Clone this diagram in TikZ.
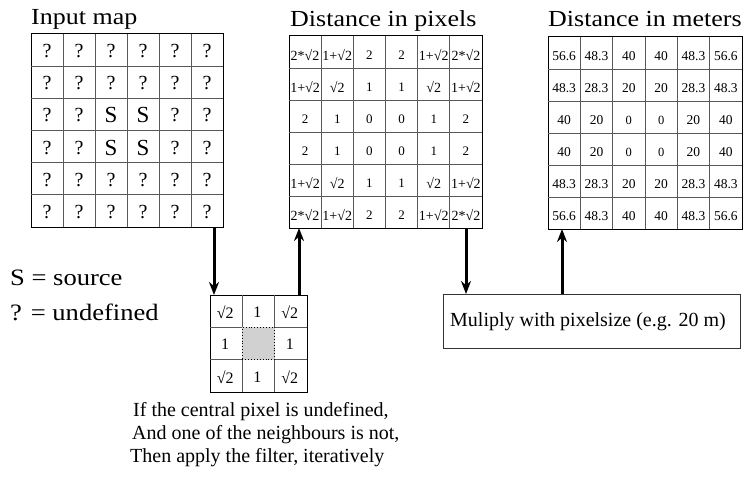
\documentclass[tikz,border=0pt]{standalone}
\usepackage{fontspec}
\setmainfont{Liberation Serif}
\newfontfamily\widefont[FakeStretch=1.13]{Liberation Serif}
\usetikzlibrary{arrows.meta,calc}
\newcommand\myfs[1]{\fontsize{#1}{#1}\selectfont}
\begin{document}
\begin{tikzpicture}[x=1pt,y=-1pt,
  gridbox/.style={draw=black, line width=1pt, inner sep=0pt, outer sep=0pt, anchor=north west},
  gridline/.style={draw=black!65, line width=0.9pt},
  title/.style={anchor=base west, inner sep=0pt, font=\widefont\myfs{23}},
  legend/.style={anchor=base west, inner sep=0pt, font=\widefont\myfs{23.5}},
  note/.style={anchor=base west, inner sep=0pt, font=\myfs{20}},
  qm/.style={inner sep=0pt, font=\myfs{20}},
  src/.style={inner sep=0pt, font=\myfs{23}},
  pxe/.style={inner sep=0pt, font=\myfs{14}},
  pxd/.style={inner sep=0pt, font=\myfs{13}},
  mte/.style={inner sep=0pt, font=\myfs{13.5}},
  mtd/.style={inner sep=0pt, font=\myfs{12.5}},
  flt/.style={inner sep=0pt, font=\myfs{16}},
  arr/.style={-{Stealth[length=13pt,width=10pt]}, line width=3pt},
  mulbox/.style={draw=black!80, line width=0.9pt, anchor=north west, minimum width=297pt, minimum height=54pt, inner sep=0pt, font=\myfs{20}}
]
\useasboundingbox (0,0) rectangle (746,476);

% ---------- titles ----------
\node[title] (t1) at (31,25) {Input map};
\node[title] (t2) at (290,27) {Distance in pixels};
\node[title] (t3) at (548,27) {Distance in meters};

% ---------- input map ----------
\node[gridbox, minimum width=192pt, minimum height=193pt] (inmap) at (31,34) {};
\foreach \i in {1,...,5} {
  \draw[gridline] ($(inmap.north west)+(\i*32,0)$) -- ($(inmap.south west)+(\i*32,0)$);
  \draw[gridline] ($(inmap.north west)+(0,\i*32.17)$) -- ($(inmap.north east)+(0,\i*32.17)$);
}
\foreach \r in {1,2,5,6} \foreach \c in {1,...,6}
  \node[qm] (im-\r-\c) at ({31+(\c-0.5)*32},{34+(\r-0.5)*32.17+1}) {?};
\foreach \r in {3,4} \foreach \c in {1,2,5,6}
  \node[qm] (im-\r-\c) at ({31+(\c-0.5)*32},{34+(\r-0.5)*32.17+1}) {?};
\foreach \r in {3,4} \foreach \c in {3,4}
  \node[src] (im-\r-\c) at ({31+(\c-0.5)*32},{34+(\r-0.5)*32.17+1}) {S};

% ---------- distance in pixels ----------
\node[gridbox, minimum width=193pt, minimum height=192pt] (pxmap) at (289,36) {};
\foreach \i in {1,...,5} {
  \draw[gridline] ($(pxmap.north west)+(\i*32.17,0)$) -- ($(pxmap.south west)+(\i*32.17,0)$);
  \draw[gridline] ($(pxmap.north west)+(0,\i*32)$) -- ($(pxmap.north east)+(0,\i*32)$);
}
\foreach \r/\row in {
  1/{e/2*√2,e/1+√2,d/2,d/2,e/1+√2,e/2*√2},
  2/{e/1+√2,e/√2,d/1,d/1,e/√2,e/1+√2},
  3/{d/2,d/1,d/0,d/0,d/1,d/2},
  4/{d/2,d/1,d/0,d/0,d/1,d/2},
  5/{e/1+√2,e/√2,d/1,d/1,e/√2,e/1+√2},
  6/{e/2*√2,e/1+√2,d/2,d/2,e/1+√2,e/2*√2}}
  \foreach \k/\t [count=\c] in \row
    \node[px\k] (px-\r-\c) at ({289+(\c-0.5)*32.17},{36+(\r-0.5)*32+3}) {\t};

% ---------- distance in meters ----------
\node[gridbox, minimum width=194pt, minimum height=192pt] (mmap) at (548,37) {};
\foreach \i in {1,...,5} {
  \draw[gridline] ($(mmap.north west)+(\i*32.33,0)$) -- ($(mmap.south west)+(\i*32.33,0)$);
  \draw[gridline] ($(mmap.north west)+(0,\i*32)$) -- ($(mmap.north east)+(0,\i*32)$);
}
\foreach \r/\row in {
  1/{e/56.6,e/48.3,e/40,e/40,e/48.3,e/56.6},
  2/{e/48.3,e/28.3,e/20,e/20,e/28.3,e/48.3},
  3/{e/40,e/20,d/0,d/0,e/20,e/40},
  4/{e/40,e/20,d/0,d/0,e/20,e/40},
  5/{e/48.3,e/28.3,e/20,e/20,e/28.3,e/48.3},
  6/{e/56.6,e/48.3,e/40,e/40,e/48.3,e/56.6}}
  \foreach \k/\t [count=\c] in \row
    \node[mt\k] (m-\r-\c) at ({548+(\c-0.5)*32.33},{37+(\r-0.5)*32+3}) {\t};

% ---------- filter ----------
\node[gridbox, minimum width=97pt, minimum height=97pt] (filt) at (210,295) {};
\foreach \i in {1,2} {
  \draw[gridline] ($(filt.north west)+(\i*32.33,0)$) -- ($(filt.south west)+(\i*32.33,0)$);
  \draw[gridline] ($(filt.north west)+(0,\i*32.33)$) -- ($(filt.north east)+(0,\i*32.33)$);
}
\node[draw=black, dotted, line width=0.9pt, fill=black!18, minimum size=32.33pt, inner sep=0pt] (fc) at ({210+1.5*32.33},{295+1.5*32.33}) {};
\foreach \r/\row in {1/{√2,1,√2},2/{1,,1},3/{√2,1,√2}}
  \foreach \t [count=\c] in \row
    \node[flt] (f-\r-\c) at ({210+(\c-0.5)*32.33-1},{295+(\r-0.5)*32.33+1}) {\t};

% ---------- multiply box ----------
\node[mulbox] (mul) at (443,294) {\hspace*{-8pt}Muliply with pixelsize (e.g. 20 m)};

% ---------- legend ----------
\node[legend] (lgs) at (10,285) {S = source};
\node[legend] (lgq) at (10,320) {? = undefined};

% ---------- note ----------
\node[note] (n1) at (133,416) {If the central pixel is undefined,};
\node[note] (n2) at (132,439) {And one of the neighbours is not,};
\node[note] (n3) at (130,462) {Then apply the filter, iteratively};

% ---------- arrows ----------
\coordinate (a1) at (214,0);
\coordinate (a2) at (299,0);
\coordinate (a3) at (466,0);
\coordinate (a4) at (562,0);
\draw[arr] (a1 |- inmap.south) -- (a1 |- filt.north);
\draw[arr] (a2 |- filt.north) -- (a2 |- pxmap.south);
\draw[arr] (a3 |- pxmap.south) -- (a3 |- mul.north);
\draw[arr] (a4 |- mul.north) -- (a4 |- mmap.south);
\end{tikzpicture}
\end{document}
